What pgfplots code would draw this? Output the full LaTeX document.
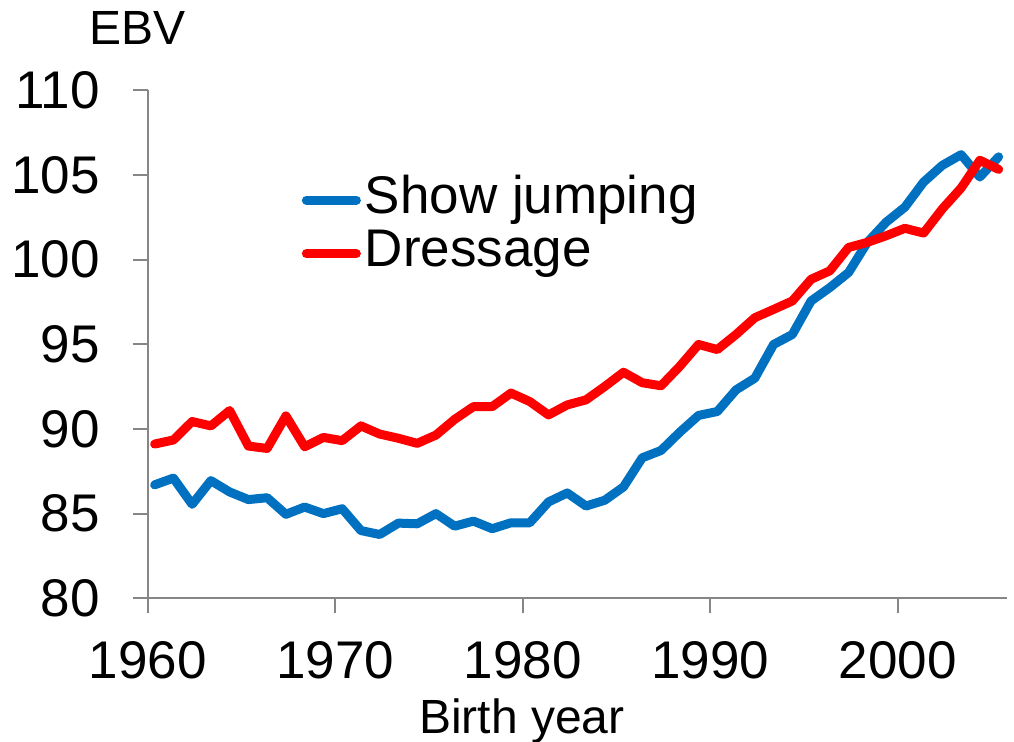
\documentclass[border=0pt]{standalone}
\usepackage{fontspec}
\setmainfont{Liberation Sans}
\usepackage{pgfplots}
\usepackage{pgfplotstable}
\pgfplotsset{compat=1.18}
\definecolor{sjblue}{HTML}{0070C0}
\definecolor{drred}{HTML}{FF0000}
\definecolor{axgray}{HTML}{868686}
\pgfplotstableread{
year sj dr
1960 86.70 89.11
1961 87.10 89.35
1962 85.55 90.44
1963 86.95 90.18
1964 86.28 91.09
1965 85.83 88.99
1966 85.94 88.85
1967 84.96 90.77
1968 85.39 88.95
1969 85.00 89.50
1970 85.29 89.31
1971 84.00 90.18
1972 83.77 89.70
1973 84.44 89.45
1974 84.40 89.15
1975 85.00 89.64
1976 84.26 90.57
1977 84.56 91.32
1978 84.11 91.32
1979 84.46 92.12
1980 84.46 91.62
1981 85.69 90.83
1982 86.22 91.42
1983 85.45 91.72
1984 85.79 92.51
1985 86.58 93.35
1986 88.30 92.73
1987 88.73 92.55
1988 89.81 93.70
1989 90.80 94.99
1990 91.03 94.69
1991 92.31 95.58
1992 93.00 96.57
1993 94.99 97.06
1994 95.58 97.56
1995 97.56 98.84
1996 98.35 99.34
1997 99.24 100.72
1998 101.02 101.02
1999 102.21 101.41
2000 103.10 101.85
2001 104.58 101.57
2002 105.57 103.00
2003 106.20 104.23
2004 104.88 105.87
2005 106.07 105.33
}\datatable
\begin{document}
\begin{tikzpicture}
\useasboundingbox (-73.85pt,-71.35pt) rectangle (433.15pt,299.15pt);
\begin{axis}[
  scale only axis,
  width=429.5pt, height=254pt,
  xmin=1960, xmax=2005.8,
  ymin=80, ymax=110,
  xtick={1960,1970,1980,1990,2000},
  ytick={80,85,90,95,100,105,110},
  axis x line*=bottom,
  axis y line*=left,
  axis line style={axgray, line width=1pt, -},
  tick style={axgray, line width=1pt},
  tick align=outside,
  major tick length=7.5pt,
  xtick pos=bottom, ytick pos=left,
  /pgf/number format/assume math mode=true,
  /pgf/number format/1000 sep={},
  tick label style={font=\fontsize{26.5}{30}\selectfont},
  xticklabel style={anchor=base, inner sep=0pt, yshift=-32.35pt},
  yticklabel style={anchor=east, inner sep=0pt, xshift=-16.35pt},
  clip=false,
  legend style={draw=none, fill=none, at={(0.179,0.731)}, anchor=west,
    font=\fontsize{26.5}{30}\selectfont, row sep=0pt, inner sep=0pt,
    nodes={inner sep=0pt, text height=20pt, text depth=6.7pt},
    /tikz/every odd column/.append style={column sep=2pt},
    cells={anchor=west}},
  legend cell align=left,
  legend image code/.code={\draw[#1, line cap=round] (0pt,0pt) -- (25pt,0pt);},
]
\addplot[sjblue, line width=4.5pt, line join=round, line cap=round] table[x expr=\thisrow{year}+0.37, y=sj] {\datatable};
\addlegendentry{Show jumping}
\addplot[drred, line width=4.5pt, line join=round, line cap=round] table[x expr=\thisrow{year}+0.37, y=dr] {\datatable};
\addlegendentry{Dressage}
\end{axis}
\node[anchor=base west, inner sep=0pt, font=\fontsize{24}{28}\selectfont] at (-29.35pt,276.65pt) {EBV};
\node[anchor=base, inner sep=0pt, font=\fontsize{24}{28}\selectfont] at (187.15pt,-67.35pt) {Birth year};
\end{tikzpicture}
\end{document}
